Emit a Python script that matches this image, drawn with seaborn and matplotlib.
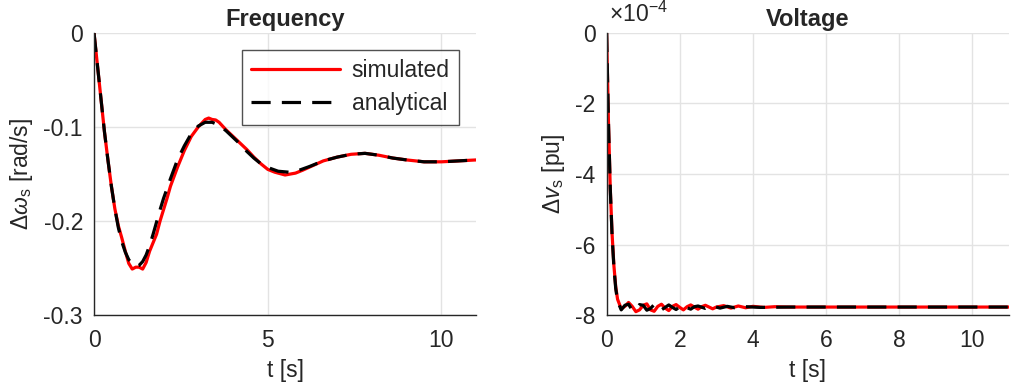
import numpy as np
import pandas as pd
import matplotlib
matplotlib.use("Agg")
import matplotlib.pyplot as plt
import seaborn as sns

# frequency deviation [rad/s]
t_freq_sim = [0, 0.1, 0.2, 0.3, 0.4, 0.5, 0.6, 0.7, 0.8, 0.9, 1.0, 1.1, 1.2, 1.3, 1.4,
              1.5, 1.6, 1.7, 1.8, 1.9, 2.0, 2.1, 2.2, 2.4, 2.6, 2.8, 3.0, 3.2, 3.3,
              3.4, 3.5, 3.6, 3.8, 4.0, 4.2, 4.4, 4.6, 4.8, 5.0, 5.2, 5.5, 5.8, 6.0,
              6.3, 6.6, 7.0, 7.4, 7.8, 8.2, 8.6, 9.0, 9.5, 10.0, 10.5, 11.0]
freq_sim = [0, -0.035, -0.07, -0.105, -0.135, -0.163, -0.187, -0.205, -0.218, -0.232,
            -0.245, -0.251, -0.249, -0.249, -0.251, -0.244, -0.232, -0.223, -0.214,
            -0.2, -0.188, -0.176, -0.163, -0.143, -0.125, -0.11, -0.1, -0.092, -0.0905,
            -0.092, -0.0925, -0.095, -0.103, -0.11, -0.117, -0.124, -0.132, -0.139,
            -0.145, -0.148, -0.151, -0.149, -0.146, -0.141, -0.136, -0.132, -0.129,
            -0.128, -0.130, -0.133, -0.135, -0.137, -0.137, -0.136, -0.135]

t_freq_ana = [0, 0.1, 0.2, 0.3, 0.4, 0.5, 0.6, 0.7, 0.8, 0.9, 1.0, 1.1, 1.2, 1.3, 1.4,
              1.5, 1.6, 1.7, 1.8, 1.9, 2.0, 2.2, 2.4, 2.6, 2.8, 3.0, 3.2, 3.4, 3.6,
              3.8, 4.0, 4.2, 4.4, 4.6, 4.8, 5.0, 5.3, 5.6, 5.9, 6.2, 6.6, 7.0, 7.4,
              7.8, 8.2, 8.6, 9.0, 9.5, 10.0, 10.5, 11.0]
freq_ana = [0, -0.035, -0.07, -0.105, -0.135, -0.163, -0.187, -0.207, -0.222, -0.233,
            -0.241, -0.246, -0.248, -0.247, -0.243, -0.236, -0.226, -0.214, -0.201,
            -0.188, -0.176, -0.155, -0.135, -0.12, -0.107, -0.099, -0.095, -0.095,
            -0.098, -0.104, -0.111, -0.118, -0.126, -0.133, -0.139, -0.143, -0.147,
            -0.148, -0.146, -0.142, -0.136, -0.132, -0.129, -0.128, -0.130, -0.133,
            -0.135, -0.137, -0.137, -0.136, -0.135]

# voltage deviation [pu]
t_volt_sim = [0, 0.05, 0.1, 0.15, 0.2, 0.25, 0.3, 0.4, 0.5, 0.6, 0.7, 0.8, 0.9, 1.0,
              1.1, 1.2, 1.3, 1.4, 1.5, 1.6, 1.7, 1.8, 1.9, 2.0, 2.1, 2.2, 2.3, 2.4,
              2.5, 2.6, 2.7, 2.8, 2.9, 3.0, 3.2, 3.4, 3.6, 3.8, 4.0, 4.3, 4.6, 5.0,
              6.0, 7.0, 11.0]
volt_sim = [0, -2.5e-4, -4.4e-4, -5.7e-4, -6.6e-4, -7.2e-4, -7.55e-4, -7.82e-4,
            -7.75e-4, -7.64e-4, -7.75e-4, -7.9e-4, -7.85e-4, -7.72e-4, -7.68e-4,
            -7.85e-4, -7.89e-4, -7.75e-4, -7.69e-4, -7.8e-4, -7.87e-4, -7.75e-4,
            -7.7e-4, -7.78e-4, -7.85e-4, -7.76e-4, -7.71e-4, -7.77e-4, -7.83e-4,
            -7.76e-4, -7.72e-4, -7.77e-4, -7.82e-4, -7.77e-4, -7.73e-4, -7.8e-4,
            -7.74e-4, -7.79e-4, -7.75e-4, -7.78e-4, -7.76e-4, -7.77e-4, -7.77e-4,
            -7.77e-4, -7.77e-4]

t_volt_ana = [0, 0.05, 0.1, 0.15, 0.2, 0.25, 0.3, 0.4, 0.5, 0.6, 0.7, 0.8, 0.9, 1.0,
              1.1, 1.2, 1.3, 1.4, 1.5, 1.6, 1.7, 1.8, 1.9, 2.0, 2.1, 2.2, 2.3, 2.4,
              2.5, 2.7, 2.9, 3.1, 3.3, 3.5, 3.8, 4.2, 5.0, 11.0]
volt_ana = [0, -2.5e-4, -4.4e-4, -5.75e-4, -6.65e-4, -7.25e-4, -7.6e-4, -7.85e-4,
            -7.72e-4, -7.69e-4, -7.86e-4, -7.83e-4, -7.7e-4, -7.72e-4, -7.86e-4,
            -7.81e-4, -7.7e-4, -7.73e-4, -7.85e-4, -7.78e-4, -7.71e-4, -7.78e-4,
            -7.84e-4, -7.76e-4, -7.72e-4, -7.79e-4, -7.83e-4, -7.76e-4, -7.74e-4,
            -7.81e-4, -7.74e-4, -7.8e-4, -7.75e-4, -7.79e-4, -7.76e-4, -7.78e-4,
            -7.77e-4, -7.77e-4]

sns.set_style("white")
plt.rcParams['font.family'] = ['Liberation Sans', 'DejaVu Sans']
plt.rcParams['mathtext.fontset'] = 'custom'
plt.rcParams['mathtext.rm'] = 'Liberation Sans'
plt.rcParams['mathtext.it'] = 'Liberation Sans:italic'
plt.rcParams['axes.unicode_minus'] = False

fs = 16.5
fig = plt.figure(figsize=(10.11, 3.92), dpi=100)
ax1 = fig.add_axes([0.093, 0.196, 0.378, 0.72])
ax2 = fig.add_axes([0.600, 0.196, 0.398, 0.72])

dash = (6, 3.5)
sns.lineplot(x=t_freq_sim, y=freq_sim, ax=ax1, color='#ff0000', lw=2.3, label='simulated')
sns.lineplot(x=t_freq_ana, y=freq_ana, ax=ax1, color='black', lw=2.3, label='analytical')
ax1.lines[-1].set_dashes(dash)
sns.lineplot(x=t_volt_sim, y=volt_sim, ax=ax2, color='#ff0000', lw=2.3)
sns.lineplot(x=t_volt_ana, y=volt_ana, ax=ax2, color='black', lw=2.3)
ax2.lines[-1].set_dashes(dash)

for ax in (ax1, ax2):
    ax.set_xlim(0, 11)
    ax.grid(True, color='#e3e3e3', lw=1)
    ax.set_axisbelow(True)
    for s in ('top', 'right'):
        ax.spines[s].set_visible(False)
    for s in ('left', 'bottom'):
        ax.spines[s].set_color('#262626')
        ax.spines[s].set_linewidth(1)
    ax.tick_params(direction='in', length=4, width=1, color='#262626',
                   labelsize=fs, labelcolor='#262626')
    ax.tick_params(axis='x', pad=10)
    ax.tick_params(axis='y', pad=8)
    ax.set_xlabel('t [s]', fontsize=fs, color='#262626', labelpad=5)

ax1.set_ylim(-0.3, 0)
ax1.set_xticks([0, 5, 10])
ax1.set_yticks([0, -0.1, -0.2, -0.3])
ax1.set_yticklabels(['0', '-0.1', '-0.2', '-0.3'])
ax1.set_ylabel(r'$\Delta\omega_{\rm s}$ [rad/s]', fontsize=fs, color='#262626', labelpad=6)
ax1.set_title('Frequency', fontsize=17, fontweight='bold', pad=5)

ax2.set_ylim(-8e-4, 0)
ax2.set_xticks([0, 2, 4, 6, 8, 10])
ax2.set_yticks([0, -2e-4, -4e-4, -6e-4, -8e-4])
ax2.set_yticklabels(['0', '-2', '-4', '-6', '-8'])
ax2.text(0.005, 1.02, r'$\times10^{-4}$', transform=ax2.transAxes, fontsize=fs,
         color='#262626', va='bottom', ha='left')
ax2.set_ylabel(r'$\Delta v_{\rm s}$ [pu]', fontsize=fs, color='#262626', labelpad=6)
ax2.set_title('Voltage', fontsize=17, fontweight='bold', pad=5)

leg = ax1.legend(loc='upper right', bbox_to_anchor=(0.955, 0.94), fontsize=fs,
                 handlelength=3.9, frameon=True, fancybox=False, borderpad=0.4,
                 labelspacing=0.45, handletextpad=0.5, borderaxespad=0)
leg.get_frame().set_edgecolor('#262626')
leg.get_frame().set_linewidth(1)
leg.get_lines()[1].set_dashes(dash)

fig.savefig('out.png', dpi=100)
